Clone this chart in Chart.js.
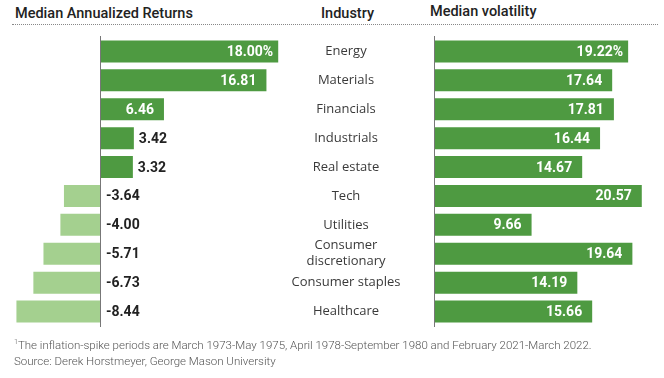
<!DOCTYPE html>
<html>
<head>
<meta charset="utf-8">
<script src="https://cdn.jsdelivr.net/npm/chart.js@4"></script>
<style>
  body { margin: 0; background: #fff; }
  #wrap { position: relative; width: 664px; height: 378px; overflow: hidden; font-family: Roboto, sans-serif; }
  canvas { position: absolute; left: 0; top: 0; }
  .hdr { position: absolute; top: 5px; font-size: 14.5px; font-weight: 500; color: #222; white-space: nowrap; }
  #rule { position: absolute; left: 12px; top: 24px; width: 646px; border-top: 1px dotted #888; }
  .note { position: absolute; left: 14px; font-size: 11.5px; font-weight: 300; color: #555; white-space: nowrap; }
</style>
</head>
<body>
<div id="wrap">
  <div class="hdr" style="left:15px">Median Annualized Returns</div>
  <div class="hdr" style="left:321px">Industry</div>
  <div class="hdr" style="left:430px; top:3px">Median volatility</div>
  <div id="rule"></div>
  <canvas id="returnsChart" width="664" height="378"></canvas>
  <canvas id="volChart" width="664" height="378"></canvas>
  <div class="note" style="top:338px"><sup style="font-size:7px">1</sup>The inflation-spike periods are March 1973-May 1975, April 1978-September 1980 and February 2021-March 2022.</div>
  <div class="note" style="top:354px">Source: Derek Horstmeyer, George Mason University</div>
</div>
<script>
// Data
const categories = ['Energy', 'Materials', 'Financials', 'Industrials', 'Real estate', 'Tech', 'Utilities', ['Consumer', 'discretionary'], 'Consumer staples', 'Healthcare'];
const returns = [18.00, 16.81, 6.46, 3.42, 3.32, -3.64, -4.00, -5.71, -6.73, -8.44];
const volatility = [19.22, 17.64, 17.81, 16.44, 14.67, 20.57, 9.66, 19.64, 14.19, 15.66];

const darkGreen = '#4e9a41';
const lightGreen = '#a4d08f';
const labelFont = "bold 14px Roboto, sans-serif";

function fmt(v, i) {
    return v.toFixed(2) + (i === 0 ? '%' : '');
}

// draws zero line, value labels and (optionally) the industry names
function makeLabelPlugin(side) {
    return {
        id: 'labels_' + side,
        afterDatasetsDraw(chart) {
            const ctx = chart.ctx;
            const meta = chart.getDatasetMeta(0);
            const data = chart.data.datasets[0].data;
            const x0 = chart.scales.x.getPixelForValue(0);
            const area = chart.chartArea;

            // zero axis line
            ctx.save();
            ctx.strokeStyle = '#777';
            ctx.lineWidth = 1;
            ctx.beginPath();
            ctx.moveTo(Math.round(x0) + 0.5, area.top - 1);
            ctx.lineTo(Math.round(x0) + 0.5, area.bottom + 1);
            ctx.stroke();

            ctx.font = labelFont;
            ctx.textBaseline = 'middle';
            meta.data.forEach((bar, i) => {
                const v = data[i];
                const txt = fmt(v, i);
                if (side === 'left' && v < 0) {
                    ctx.fillStyle = '#222';
                    ctx.textAlign = 'left';
                    ctx.fillText(txt, x0 + 6, bar.y + 1);
                } else if (side === 'left' && v < 6) {
                    ctx.fillStyle = '#222';
                    ctx.textAlign = 'left';
                    ctx.fillText(txt, bar.x + 5, bar.y + 1);
                } else {
                    ctx.fillStyle = '#fff';
                    ctx.textAlign = 'right';
                    ctx.fillText(txt, bar.x - (i === 0 ? 5 : 10), bar.y + 1);
                }
            });

            // industry names in the middle column
            if (side === 'left') {
                ctx.font = "13px 'Open Sans', sans-serif";
                ctx.fillStyle = '#3a3a3a';
                ctx.textAlign = 'center';
                meta.data.forEach((bar, i) => {
                    const lbl = categories[i];
                    if (Array.isArray(lbl)) {
                        ctx.fillText(lbl[0], 346, bar.y - 8);
                        ctx.fillText(lbl[1], 346, bar.y + 8);
                    } else {
                        ctx.fillText(lbl, 346, bar.y);
                    }
                });
            }
            ctx.restore();
        }
    };
}

function baseOptions(padding, min, max) {
    return {
        responsive: false,
        animation: false,
        events: [],
        indexAxis: 'y',
        layout: { padding: padding },
        plugins: { legend: { display: false }, tooltip: { enabled: false } },
        scales: {
            x: { display: false, min: min, max: max },
            y: { display: false }
        }
    };
}

new Chart(document.getElementById('returnsChart').getContext('2d'), {
    type: 'bar',
    data: {
        labels: categories,
        datasets: [{
            data: returns,
            backgroundColor: returns.map(v => v < 0 ? lightGreen : darkGreen),
            barPercentage: 0.76,
            categoryPercentage: 1
        }]
    },
    options: baseOptions({ left: 0, right: 364, top: 37, bottom: 52 }, -10.1, 20.2),
    plugins: [makeLabelPlugin('left')]
});

new Chart(document.getElementById('volChart').getContext('2d'), {
    type: 'bar',
    data: {
        labels: categories,
        datasets: [{
            data: volatility,
            backgroundColor: darkGreen,
            barPercentage: 0.76,
            categoryPercentage: 1
        }]
    },
    options: baseOptions({ left: 434, right: 10, top: 37, bottom: 52 }, 0, 21.78),
    plugins: [makeLabelPlugin('right')]
});
</script>
</body>
</html>
